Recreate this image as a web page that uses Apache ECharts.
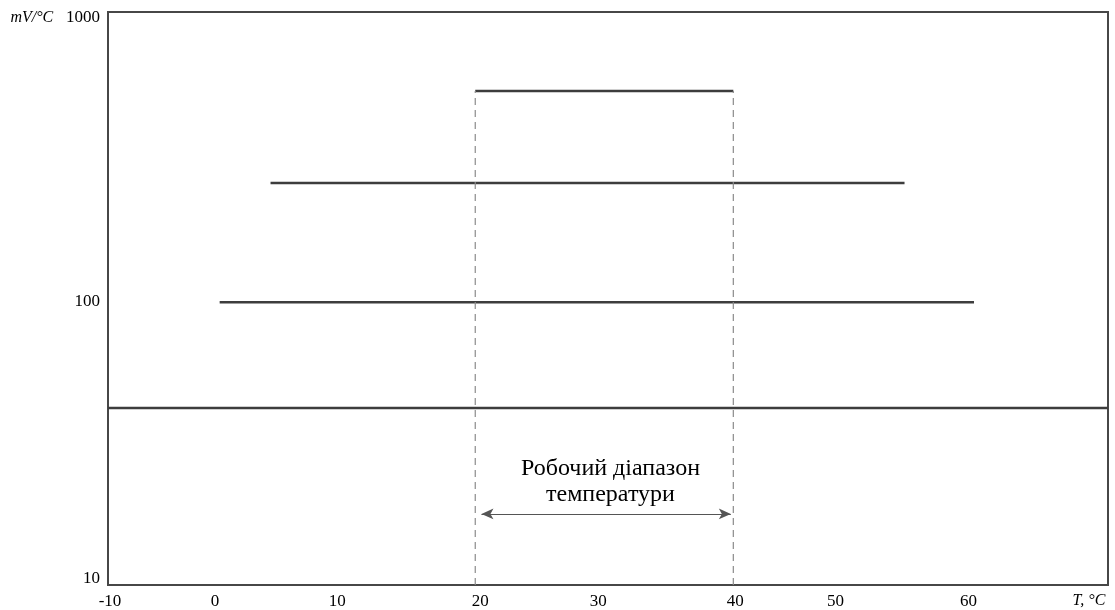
<!DOCTYPE html>
<html>
<head>
<meta charset="utf-8">
<script src="https://cdn.jsdelivr.net/npm/echarts@6/dist/echarts.min.js"></script>
<style>html,body{margin:0;padding:0;background:#fff}#c{width:1115px;height:610px}</style>
</head>
<body>
<div id="c"></div>
<script>
// x tick labels (°C) and y tick labels (mV/°C, log)
const xTicks = [-10, 0, 10, 20, 30, 40, 50, 60];
const yTicks = [10, 100, 1000];
// horizontal levels: [xStart, xEnd] and level value
const lowX = [-1, 59.8];      const lowY = 97;
const midX = [3.1, 54.2];     const midY = 253;
const topX = [19.6, 40.4];    const topY = 530;
const baseY = 41.5;           // full-width line
// working range (dashed bounds and arrow)
const rangeX = [19.6, 40.4];
const arrowX = [20.1, 40.2];  const arrowY = 17.7;
const rangeLabel = ['Робочий діапазон', 'температури'];
const rangeLabelPos = [30.5, 22.9];

const X_MIN = -10, X_MAX = 70.6, Y_MIN = 10, Y_MAX = 1000;
const serif = '"Liberation Serif", "DejaVu Serif", serif';
const dark = '#3d3d3d';
const ink = '#000';

// small label nudges (style only) to mimic the hand-set labels of the original
const xNudge = {'-10': 2, '0': -17, '10': -19, '20': 0, '30': -6, '40': 7, '50': -17, '60': -8};
const yNudge = {'10': -6, '100': 3, '1000': 6};

function seg(xs, y) { return [[xs[0], y], [xs[1], y]]; }
function xRich() {
  const r = {};
  xTicks.forEach((t, i) => {
    const n = xNudge[String(t)];
    r['x' + i] = {fontFamily: serif, fontSize: 17, color: ink,
      padding: n >= 0 ? [0, 0, 0, 2 * n] : [0, -2 * n, 0, 0]};
  });
  return r;
}
function yRich() {
  const r = {u: {fontFamily: serif, fontSize: 16, fontStyle: 'italic', color: ink}};
  yTicks.forEach((t, i) => {
    const n = yNudge[String(t)];
    r['y' + i] = {fontFamily: serif, fontSize: 17, color: ink,
      padding: n >= 0 ? [2 * n, 0, 0, 0] : [0, 0, -2 * n, 0]};
    r['u' + i] = Object.assign({}, r.u, {padding: n >= 0 ? [2 * n, 0, 0, 0] : [0, 0, -2 * n, 0]});
  });
  return r;
}

const chart = echarts.init(document.getElementById('c'), null, {renderer: 'canvas'});
chart.setOption({
  animation: false,
  backgroundColor: '#fff',
  grid: {left: 108, right: 7, top: 12, bottom: 25, show: true, borderColor: '#474747', borderWidth: 2, backgroundColor: 'transparent'},
  xAxis: {
    type: 'value', min: X_MIN, max: X_MAX, interval: 10,
    axisLine: {show: false}, axisTick: {show: false}, splitLine: {show: false},
    axisLabel: {
      margin: 8, color: ink, fontFamily: serif, fontSize: 17,
      formatter: v => { const i = xTicks.indexOf(v); return i < 0 ? '' : '{x' + i + '|' + v + '}'; },
      rich: xRich()
    },
    name: 'T, °C', nameLocation: 'end', nameGap: -19,
    nameTextStyle: {align: 'center', verticalAlign: 'top', padding: [8, 0, 0, 0], color: ink, fontFamily: serif, fontSize: 16, fontStyle: 'italic'}
  },
  yAxis: {
    type: 'log', logBase: 10, min: Y_MIN, max: Y_MAX,
    axisLine: {show: false}, axisTick: {show: false}, splitLine: {show: false}, minorTick: {show: false},
    axisLabel: {
      margin: 8, color: ink, fontFamily: serif, fontSize: 17,
      formatter: v => {
        const i = yTicks.indexOf(v);
        if (i < 0) return '';
        return (v === 1000 ? '{u' + i + '|mV/°C}{y' + i + '|   ' + v + '}' : '{y' + i + '|' + v + '}');
      },
      rich: yRich()
    }
  },
  series: [
    {type: 'line', data: seg([X_MIN, X_MAX], baseY), symbol: 'none', lineStyle: {color: dark, width: 2.5}},
    {type: 'line', data: seg(lowX, lowY), symbol: 'none', lineStyle: {color: dark, width: 2.5}},
    {type: 'line', data: seg(midX, midY), symbol: 'none', lineStyle: {color: dark, width: 2.5}},
    {type: 'line', data: seg(topX, topY), symbol: 'none', lineStyle: {color: dark, width: 2.5}},
    {type: 'line', data: [[rangeX[0], Y_MIN], [rangeX[0], topY]], symbol: 'none', lineStyle: {color: '#8a8a8a', width: 1.2, type: [7, 5]}},
    {type: 'line', data: [[rangeX[1], Y_MIN], [rangeX[1], topY]], symbol: 'none', lineStyle: {color: '#8a8a8a', width: 1.2, type: [7, 5]}},
    {
      type: 'line', data: [], symbol: 'none',
      markLine: {
        silent: true, symbol: ['arrow', 'arrow'], symbolSize: [8, 12],
        label: {show: false},
        lineStyle: {color: '#555', width: 1, type: 'solid'},
        data: [[{coord: [arrowX[0], arrowY]}, {coord: [arrowX[1], arrowY]}]]
      }
    },
    {
      type: 'scatter', symbolSize: 0, data: [rangeLabelPos],
      itemStyle: {color: ink, opacity: 1},
      label: {
        show: true, position: 'inside', formatter: rangeLabel.join('\n'),
        color: ink, opacity: 1, textBorderWidth: 0, fontFamily: serif, fontSize: 24, lineHeight: 26, align: 'center'
      }
    }
  ]
});
</script>
</body>
</html>
